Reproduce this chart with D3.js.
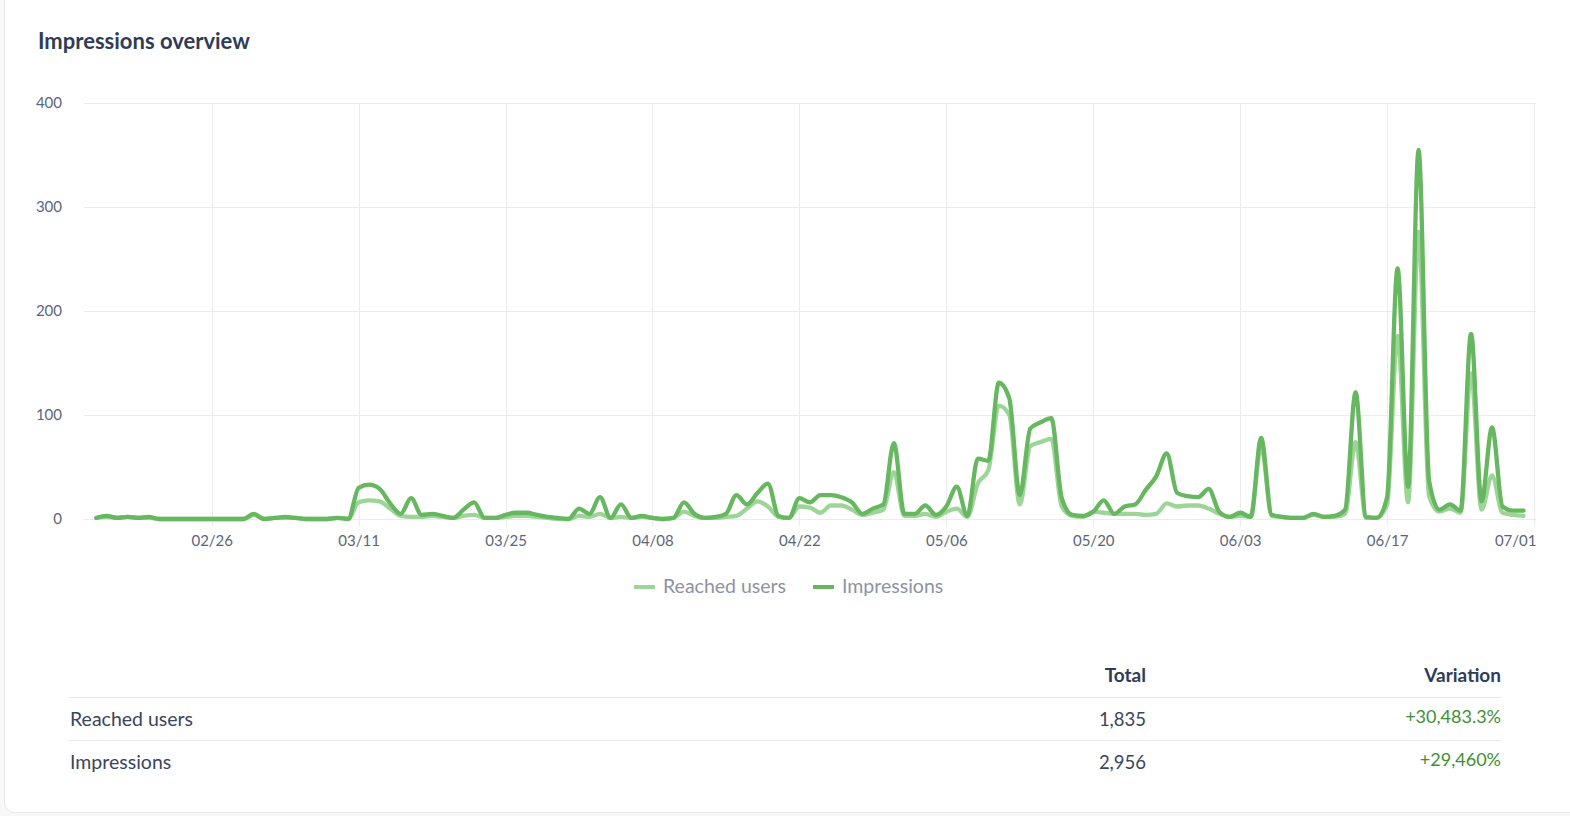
<!DOCTYPE html>
<html>
<head>
<meta charset="utf-8">
<script src="https://cdn.jsdelivr.net/npm/d3@7"></script>
<style>
  body { margin: 0; background: #f8f8f9; font-family: Lato, "Open Sans", sans-serif; }
  svg { display: block; }
</style>
</head>
<body>
<svg id="chart" width="1570" height="816"></svg>
<script>
// daily values, 02/15 -> 06/30 (2024)
const firstDay = "2024-02-15";
const reachedUsers = [
  1, 2, 1, 2, 1, 1, 0, 0, 0, 0, 0, 0, 0, 0, 0, 4, 0, 1, 1, 1,
  0, 0, 0, 1, 0, 16, 18, 17, 10, 3, 2, 2, 3, 2, 1, 3, 4, 1, 1, 2,
  3, 3, 2, 1, 0, 0, 3, 2, 5, 1, 2, 1, 2, 1, 0, 1, 7, 3, 1, 1,
  2, 3, 10, 17, 12, 2, 1, 12, 11, 6, 13, 13, 9, 4, 6, 9, 45, 3, 3, 5,
  2, 7, 10, 2, 34, 47, 109, 100, 14, 70, 74, 77, 12, 3, 2, 7, 6, 5, 5, 5,
  4, 5, 15, 12, 13, 13, 10, 5, 2, 3, 2, 70, 3, 2, 1, 1, 4, 2, 2, 5,
  74, 1, 1, 14, 176, 16, 276, 22, 7, 10, 6, 140, 9, 42, 6, 4, 3
];
const impressions = [
  1, 3, 1, 2, 1, 2, 0, 0, 0, 0, 0, 0, 0, 0, 0, 5, 0, 1, 2, 1,
  0, 0, 0, 1, 0, 30, 33, 29, 15, 5, 20, 4, 5, 3, 1, 9, 16, 1, 1, 4,
  6, 6, 4, 2, 1, 0, 10, 5, 21, 1, 14, 1, 3, 1, 0, 1, 16, 5, 1, 2,
  5, 23, 14, 25, 34, 3, 1, 20, 16, 23, 23, 21, 16, 5, 10, 14, 73, 5, 5, 13,
  4, 12, 31, 3, 58, 56, 131, 116, 23, 87, 93, 97, 20, 4, 3, 7, 18, 5, 12, 14,
  28, 41, 63, 25, 22, 21, 29, 7, 2, 6, 2, 78, 4, 2, 1, 1, 5, 2, 3, 9,
  122, 2, 1, 21, 241, 31, 355, 37, 9, 14, 8, 178, 17, 88, 12, 8, 8
];
const seriesNames = ["Reached users", "Impressions"];
const seriesColors = ["#9dd598", "#66b760"];
const tickLabels = ["02/26", "03/11", "03/25", "04/08", "04/22", "05/06", "05/20", "06/03", "06/17", "07/01"];
const yTicks = [0, 100, 200, 300, 400];
const tableTotals = ["1,835", "2,956"];
const tableVariations = ["+30,483.3%", "+29,460%"];

const svg = d3.select("#chart");
const parseDay = d3.timeParse("%Y-%m-%d");
const parseTick = d3.timeParse("%Y/%m/%d");
const start = parseDay(firstDay);
const days = impressions.map((_, i) => d3.timeDay.offset(start, i));
const tickDates = tickLabels.map(t => parseTick("2024/" + t));

// card
svg.append("rect")
  .attr("x", 4.5).attr("y", -20)
  .attr("width", 1600).attr("height", 832.5)
  .attr("rx", 10)
  .attr("fill", "#fff")
  .attr("stroke", "#e5e7eb");

svg.append("text")
  .attr("x", 38).attr("y", 49)
  .attr("font-size", 22).attr("font-weight", 700)
  .attr("fill", "#2f3c58")
  .text("Impressions overview");

const x = d3.scaleTime()
  .domain([start, d3.timeDay.offset(start, 137)])
  .range([96.3, 1534]);
const y = d3.scaleLinear().domain([0, 400]).range([519, 103]);

// grid
svg.append("g").selectAll("line").data(yTicks).join("line")
  .attr("x1", 84).attr("x2", 1536)
  .attr("y1", d => y(d) + 0.5).attr("y2", d => y(d) + 0.5)
  .attr("stroke", "#ececf0");

svg.append("g").selectAll("line").data(tickDates).join("line")
  .attr("x1", d => Math.round(x(d)) + 0.5).attr("x2", d => Math.round(x(d)) + 0.5)
  .attr("y1", y(400)).attr("y2", 526)
  .attr("stroke", "#ececf0");

// axes labels
const yAxis = svg.append("g")
  .attr("transform", "translate(62,0)")
  .call(d3.axisLeft(y).tickValues(yTicks).tickSize(0).tickPadding(0));
yAxis.select(".domain").remove();
yAxis.selectAll("text")
  .attr("font-family", "Lato, sans-serif").attr("font-size", 15)
  .attr("fill", "#5d6579");

const xAxis = svg.append("g")
  .attr("transform", "translate(0,532)")
  .call(d3.axisBottom(x).tickValues(tickDates).tickFormat(d3.timeFormat("%m/%d")).tickSize(0).tickPadding(3));
xAxis.select(".domain").remove();
xAxis.selectAll("text")
  .attr("font-family", "Lato, sans-serif").attr("font-size", 15)
  .attr("fill", "#5d6579");
// last label kept inside the plot
xAxis.selectAll(".tick").filter((d, i, n) => i === n.length - 1)
  .select("text").attr("text-anchor", "end").attr("x", 2);

// lines
const line = d3.line()
  .x((d, i) => x(days[i]))
  .y(d => y(d))
  .curve(d3.curveMonotoneX);

[reachedUsers, impressions].forEach((vals, k) => {
  svg.append("path")
    .datum(vals)
    .attr("d", line)
    .attr("fill", "none")
    .attr("stroke", seriesColors[k])
    .attr("stroke-width", 4.3)
    .attr("stroke-linejoin", "round")
    .attr("stroke-linecap", "round");
});

// legend
const legendX = [634, 813];
seriesNames.forEach((name, k) => {
  svg.append("rect")
    .attr("x", legendX[k]).attr("y", 585)
    .attr("width", 21).attr("height", 4)
    .attr("fill", seriesColors[k]);
  svg.append("text")
    .attr("x", legendX[k] + 29).attr("y", 593)
    .attr("font-size", 19.5).attr("fill", "#8c93a4")
    .text(name);
});

// summary table
svg.append("text").attr("x", 1146).attr("y", 682)
  .attr("text-anchor", "end").attr("font-size", 19).attr("font-weight", 700)
  .attr("fill", "#2f3c58").text("Total");
svg.append("text").attr("x", 1501).attr("y", 682)
  .attr("text-anchor", "end").attr("font-size", 19).attr("font-weight", 700)
  .attr("fill", "#2f3c58").text("Variation");

const rowBase = [726, 769];
const rowLine = [697.5, 740.5];
seriesNames.forEach((name, k) => {
  svg.append("line")
    .attr("x1", 69).attr("x2", 1501)
    .attr("y1", rowLine[k]).attr("y2", rowLine[k])
    .attr("stroke", "#e6e8ec");
  svg.append("text").attr("x", 70).attr("y", rowBase[k])
    .attr("font-size", 19.5).attr("fill", "#3a4560").text(name);
  svg.append("text").attr("x", 1146).attr("y", rowBase[k])
    .attr("text-anchor", "end").attr("font-size", 18.5)
    .attr("fill", "#3a4560").text(tableTotals[k]);
  svg.append("text").attr("x", 1501).attr("y", rowBase[k] - 3)
    .attr("text-anchor", "end").attr("font-size", 18)
    .attr("fill", "#3f8f34").text(tableVariations[k]);
});
</script>
</body>
</html>
